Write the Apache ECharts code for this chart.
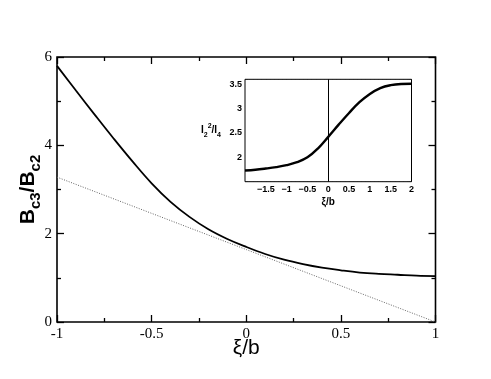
<!DOCTYPE html>
<html><head><meta charset="utf-8">
<script src="https://cdn.jsdelivr.net/npm/echarts@6/dist/echarts.min.js"></script>
<style>html,body{margin:0;padding:0;background:#fff}#c{width:491px;height:379px}</style>
</head><body><div id="c"></div>
<script>
// Main chart: solid curve B_c3/B_c2 vs xi/b
const mainX = [-1.0,-0.9,-0.8,-0.7,-0.6,-0.5,-0.4,-0.3,-0.2,-0.1,0.0,0.1,0.2,0.3,0.4,0.5,0.6,0.7,0.8,0.9,1.0];
const mainSolid = [5.80,5.24,4.69,4.15,3.63,3.14,2.72,2.38,2.10,1.88,1.70,1.54,1.41,1.31,1.23,1.17,1.12,1.09,1.07,1.05,1.04];
// Dotted straight line
const dotX = [-1.0, 0.0, 1.0];
const dotY = [3.28, 1.64, 0.0];
// Inset: I2^2/I4 vs xi/b
const insetX = [-2,-1.75,-1.5,-1.25,-1,-0.75,-0.5,-0.25,0,0.25,0.5,0.75,1,1.25,1.5,1.75,2];
const insetY = [1.73,1.745,1.77,1.80,1.84,1.90,2.00,2.18,2.42,2.67,2.91,3.13,3.30,3.42,3.48,3.505,3.51];
const insetZeroLine = 0;
// tick settings
const mainXTicks = {min:-1, max:1, interval:0.5};
const mainYTicks = {min:0, max:6, interval:2};
const insetXTicks = {min:-2, max:2, interval:0.5};
const insetYTicks = {min:1.5, max:3.6, interval:0.5};

const serif = 'Liberation Serif';
const sans = 'Liberation Sans';
function pairs(xs, ys){ return xs.map((x,i)=>[x, ys[i]]); }

const chart = echarts.init(document.getElementById('c'), null, {renderer:'canvas'});

function mainAxisX(pos, showLabel, name){
  return {
    type:'value', gridIndex:0, position:pos, ...mainXTicks,
    axisLine:{show:false, onZero:false},
    axisTick:{show:true, inside:true, length:7, lineStyle:{color:'#000', width:1.3}},
    minorTick:{show:true, splitNumber:2, length:4, lineStyle:{color:'#000', width:1.3}},
    splitLine:{show:false},
    axisLabel:{show:showLabel, color:'#000', fontFamily:serif, fontSize:15, margin:5,
      formatter:v=>String(v)},
    name:name||'', nameLocation:'middle', nameGap:16, nameMoveOverlap:false,
    nameTextStyle:{fontFamily:sans, fontSize:21, color:'#000', verticalAlign:'top'}
  };
}
function mainAxisY(pos, showLabel, name){
  return {
    type:'value', gridIndex:0, position:pos, ...mainYTicks,
    axisLine:{show:false, onZero:false},
    axisTick:{show:true, inside:true, length:7, lineStyle:{color:'#000', width:1.3}},
    minorTick:{show:true, splitNumber:2, length:4, lineStyle:{color:'#000', width:1.3}},
    splitLine:{show:false},
    axisLabel:{show:showLabel, color:'#000', fontFamily:serif, fontSize:15, margin:5},
    name:name||'', nameLocation:'middle', nameGap:14, nameRotate:90, nameMoveOverlap:false,
    nameTextStyle:{
      color:'#000',
      rich:{
        b:{fontFamily:sans, fontWeight:'bold', fontSize:21, lineHeight:30, color:'#000'},
        s:{fontFamily:sans, fontWeight:'bold', fontSize:15, lineHeight:14, verticalAlign:'bottom', color:'#000'}
      }
    }
  };
}
function insetAxisX(pos, showLabel, name){
  return {
    type:'value', gridIndex:1, position:pos, ...insetXTicks,
    axisLine:{show:false, onZero:false},
    axisTick:{show:true, inside:true, length:3, lineStyle:{color:'#000', width:0.8}},
    minorTick:{show:true, splitNumber:5, length:2, lineStyle:{color:'#000', width:0.6}},
    splitLine:{show:false},
    axisLabel:{show:showLabel, color:'#000', fontFamily:sans, fontWeight:'bold', fontSize:9, margin:3,
      formatter:v=>(v<=-2 ? '' : (v<0?'\u2212':'')+String(Math.abs(v)))},
    name:name||'', nameLocation:'middle', nameGap:16, nameMoveOverlap:false,
    nameTextStyle:{fontFamily:sans, fontWeight:'bold', fontSize:10, color:'#000'}
  };
}
function insetAxisY(pos, showLabel, name){
  return {
    type:'value', gridIndex:1, position:pos, ...insetYTicks,
    axisLine:{show:false, onZero:false},
    axisTick:{show:true, inside:true, length:3, lineStyle:{color:'#000', width:0.8}},
    minorTick:{show:true, splitNumber:5, length:2, lineStyle:{color:'#000', width:0.6}},
    splitLine:{show:false},
    axisLabel:{show:showLabel, color:'#000', fontFamily:sans, fontWeight:'bold', fontSize:9, margin:3,
      formatter:v=>(v<2 ? '' : String(v))},
    name:name||'', nameLocation:'middle', nameGap:24, nameRotate:0, nameMoveOverlap:false,
    nameTextStyle:{
      color:'#000', align:'right',
      rich:{
        i:{fontFamily:sans, fontWeight:'bold', fontSize:10, lineHeight:16, color:'#000'},
        sb:{fontFamily:sans, fontWeight:'bold', fontSize:7, lineHeight:9, verticalAlign:'bottom', color:'#000'},
        sp:{fontFamily:sans, fontWeight:'bold', fontSize:7, lineHeight:9, verticalAlign:'top', color:'#000'}
      }
    }
  };
}

const option = {
  animation:false,
  backgroundColor:'#fff',
  grid:[
    {left:57, top:57, width:378.5, height:265, show:true, borderColor:'#000', borderWidth:1.6, backgroundColor:'transparent'},
    {left:245, top:79.3, width:166.5, height:102.4, show:true, borderColor:'#000', borderWidth:1, backgroundColor:'#fff', z:5}
  ],
  xAxis:[
    mainAxisX('bottom', true, 'ξ/b'),
    mainAxisX('top', false),
    insetAxisX('bottom', true, 'ξ/b'),
    insetAxisX('top', false)
  ],
  yAxis:[
    mainAxisY('left', true, '{b|B}{s|c3}{b|/B}{s|c2}'),
    mainAxisY('right', false),
    insetAxisY('left', true, '{i|I}{sb|2}{sp|2}{i|/I}{sb|4}'),
    insetAxisY('right', false)
  ],
  series:[
    {type:'line', xAxisIndex:0, yAxisIndex:0, data:pairs(dotX, dotY), showSymbol:false,
      lineStyle:{color:'#666', width:1, type:[1,1.5]}, z:3},
    {type:'line', xAxisIndex:0, yAxisIndex:0, data:pairs(mainX, mainSolid), showSymbol:false, smooth:0.4,
      lineStyle:{color:'#000', width:1.8}, z:4},
    {type:'line', xAxisIndex:2, yAxisIndex:2, data:pairs(insetX, insetY), showSymbol:false, smooth:0.4,
      lineStyle:{color:'#000', width:2.4}, z:6,
      markLine:{silent:true, symbol:'none', label:{show:false},
        lineStyle:{color:'#000', width:1, type:'solid'}, data:[{xAxis:insetZeroLine}]}}
  ]
};
chart.setOption(option);
</script></body></html>
